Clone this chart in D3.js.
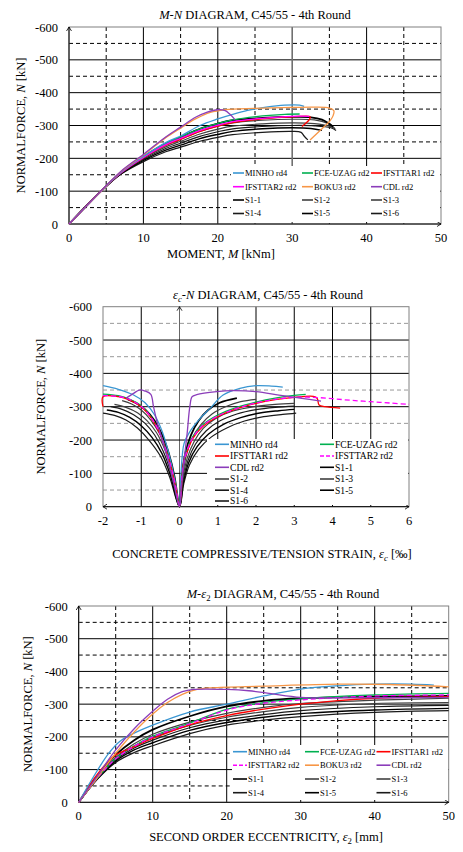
<!DOCTYPE html>
<html>
<head>
<meta charset="utf-8">
<title>M-N diagrams C45/55</title>
<script src="https://d3js.org/d3.v7.min.js"></script>
<style>
  body { margin: 0; background: #fff; }
  svg text { font-family: "Liberation Serif", "Times New Roman", serif; fill: #000; }
</style>
</head>
<body>
<svg id="chart" width="463" height="852"></svg>
<script>
// ---- data ----
var nTicks = [0, -100, -200, -300, -400, -500, -600];
var nMajor = [-100, -200, -300, -400, -500];
var nMinor = [-50, -150, -250, -350, -450, -550];

var mTicks = [0, 10, 20, 30, 40, 50];
var mMajor = [10, 20, 30, 40];
var mMinor = [5, 15, 25, 35, 45];

var strainTicks = [-2, -1, 0, 1, 2, 3, 4, 5, 6];
var strainMajor = [-1, 1, 2, 3, 4, 5];

var legendAll = ["MINHO rd4", "FCE-UZAG rd2", "IFSTTAR1 rd2", "IFSTTAR2 rd2", "BOKU3 rd2", "CDL rd2",
                 "S1-1", "S1-2", "S1-3", "S1-4", "S1-5", "S1-6"];
var legendStrain = ["MINHO rd4", "FCE-UZAG rd2", "IFSTTAR1 rd2", "IFSTTAR2 rd2", "CDL rd2",
                    "S1-1", "S1-2", "S1-3", "S1-4", "S1-5", "S1-6"];

// M-N diagram: [M kNm, N kN]
var mnCurves = {
  "S1-6": [[0,0],[4.3,-100],[7,-152],[10,-190],[13,-220],[15,-234],[17.6,-252],[20,-264],[22,-272],[26,-279],[30,-282],[31.2,-279],[31.6,-268],[32.1,-256]],
  "S1-5": [[0,0],[4.3,-100],[7,-153],[10,-194],[13,-225],[15,-240],[17.6,-260],[20,-273],[22,-282],[26,-290],[30,-293],[32.5,-291],[34,-285]],
  "S1-4": [[0,0],[4.3,-100],[7,-154],[10,-197],[13,-230],[15,-246],[17.6,-267],[20,-281],[22,-290],[26,-297],[30,-300],[33,-299],[35.2,-293],[35.9,-285]],
  "S1-3": [[0,0],[4.3,-100],[7,-155],[10,-200],[13,-235],[15,-252],[17.6,-274],[20,-289],[22,-298],[26,-305],[30,-308],[33,-306],[35,-298],[35.8,-289]],
  "S1-2": [[0,0],[4.3,-100],[7,-156],[10,-203],[13,-240],[15,-258],[17.6,-282],[20,-298],[22,-308],[26,-316],[30,-319],[33,-317],[34.8,-306],[35.7,-292]],
  "S1-1": [[0,0],[4.3,-100],[7,-157],[10,-205],[13,-245],[15,-264],[17.6,-290],[20,-306],[22,-316],[26,-323],[30,-326],[32.5,-325],[34,-318],[34.8,-308],[35.5,-296]],
  "FCE-UZAG rd2": [[0,0],[4.3,-100],[7,-157],[10,-204],[13,-245],[15,-265],[17.6,-290],[20,-306],[22,-317],[26,-329],[29,-334],[31,-335]],
  "IFSTTAR1 rd2": [[0,0],[4.3,-100],[7,-156],[10,-202],[13,-240],[15,-258],[17.6,-282],[20,-298],[22,-309],[26,-320],[30,-326],[32.4,-327],[32.3,-318],[31.3,-297]],
  "IFSTTAR2 rd2": [[0,0],[4.3,-100],[7,-156],[10,-203],[13,-242],[15,-261],[17.6,-285],[20,-301],[22,-312],[26,-322],[30,-328],[32.3,-328]],
  "MINHO rd4": [[0,0],[4.3,-100],[7,-158],[10,-206],[13,-248],[15,-268],[17.6,-300],[20,-320],[22,-334],[24,-346],[26.5,-356],[29,-362],[31,-362],[31.6,-358]],
  "BOKU3 rd2": [[0,0],[4.3,-100],[7,-160],[10,-210],[13,-263],[15,-292],[17,-320],[19,-340],[21,-348],[25,-352],[30,-355],[33,-356],[35,-353],[35.6,-345],[35.5,-330],[35.1,-315],[34,-290],[32.4,-256]],
  "CDL rd2": [[0,0],[4.3,-100],[7,-161],[10,-212],[13,-265],[15,-295],[17,-325],[18.5,-340],[20,-348],[21,-345],[21.6,-335],[22.3,-318]]
};

// eps_c-N diagram: [strain permille, N kN]
var strainCurves = {
  "S1-6": [[-2.0,-281],[-1.7,-274],[-1.4,-260],[-1.1,-236],[-0.8,-200],[-0.5,-152],[-0.26,-90],[0,0],[0.11,-68],[0.26,-125],[0.5,-172],[0.82,-208],[1.25,-237],[1.7,-257],[2.2,-270],[2.7,-277],[3.05,-281]],
  "S1-5": [[-1.9,-290],[-1.6,-283],[-1.3,-268],[-1.0,-243],[-0.72,-208],[-0.46,-160],[-0.24,-95],[0,0],[0.1,-72],[0.24,-132],[0.46,-180],[0.76,-218],[1.15,-247],[1.6,-267],[2.1,-281],[2.6,-288],[3.0,-292]],
  "S1-4": [[-1.8,-300],[-1.5,-292],[-1.2,-276],[-0.9,-250],[-0.65,-215],[-0.42,-165],[-0.22,-100],[0,0],[0.09,-75],[0.22,-138],[0.42,-188],[0.7,-228],[1.05,-257],[1.5,-278],[2.0,-291],[2.5,-298],[3.0,-302]],
  "S1-3": [[-1.7,-307],[-1.4,-298],[-1.1,-282],[-0.85,-258],[-0.6,-222],[-0.38,-170],[-0.2,-105],[0,0],[0.08,-80],[0.2,-145],[0.38,-195],[0.62,-235],[0.95,-265],[1.4,-287],[2.0,-301],[2.5,-307],[3.0,-310]],
  "S1-2": [[-1.5,-318],[-1.25,-308],[-1.0,-290],[-0.75,-260],[-0.5,-215],[-0.3,-160],[-0.14,-90],[0,0],[0.07,-85],[0.17,-150],[0.33,-205],[0.55,-245],[0.85,-278],[1.25,-302],[1.6,-315],[2.0,-322]],
  "S1-1": [[-1.35,-322],[-1.15,-312],[-0.9,-292],[-0.65,-258],[-0.45,-215],[-0.28,-160],[-0.13,-90],[0,0],[0.06,-90],[0.15,-160],[0.3,-215],[0.5,-258],[0.75,-290],[1.05,-312],[1.5,-326]],
  "MINHO rd4": [[-2,-363],[-1.6,-352],[-1.2,-335],[-0.9,-312],[-0.65,-275],[-0.45,-225],[-0.28,-160],[-0.12,-80],[0,0],[0.03,-80],[0.07,-150],[0.12,-190],[0.27,-225],[0.54,-265],[0.8,-295],[1.14,-335],[1.58,-355],[2.0,-363],[2.4,-362],[2.7,-359]],
  "FCE-UZAG rd2": [[-2,-338],[-1.6,-333],[-1.3,-322],[-1.0,-303],[-0.75,-270],[-0.55,-230],[-0.38,-180],[-0.22,-120],[-0.1,-60],[0,0],[0.08,-110],[0.18,-165],[0.35,-210],[0.6,-245],[1.0,-275],[1.5,-298],[2.0,-314],[2.5,-326],[3.0,-334],[3.3,-337]],
  "IFSTTAR1 rd2": [[-2,-300],[-2,-330],[-1.6,-330],[-1.3,-320],[-1.0,-300],[-0.75,-268],[-0.55,-228],[-0.38,-178],[-0.22,-118],[-0.1,-58],[0,0],[0.08,-105],[0.12,-140],[0.2,-165],[0.35,-205],[0.6,-240],[1.0,-270],[1.5,-294],[2.0,-310],[2.5,-321],[3.0,-328],[3.5,-331],[3.6,-325],[3.65,-305],[3.8,-300],[4.2,-296]],
  "IFSTTAR2 rd2": [[-2,-333],[-1.6,-331],[-1.3,-321],[-1.0,-301],[-0.75,-269],[-0.55,-229],[-0.38,-179],[-0.22,-119],[-0.1,-59],[0,0],[0.08,-108],[0.18,-162],[0.35,-207],[0.6,-243],[1.0,-272],[1.5,-295],[2.0,-311],[2.5,-322],[3.0,-328],[3.5,-328],[4.0,-324],[4.5,-319],[5.0,-315],[5.5,-311],[6.0,-307]],
  "CDL rd2": [[-1.4,-325],[-1.2,-340],[-1.05,-350],[-0.9,-347],[-0.75,-337],[-0.68,-300],[-0.6,-260],[-0.45,-200],[-0.3,-140],[-0.15,-70],[0,0],[0.05,-60],[0.12,-140],[0.2,-220],[0.27,-300],[0.33,-330],[0.45,-336],[0.97,-345],[1.4,-348],[2.0,-345],[2.6,-335],[3.2,-325],[3.7,-317]]
};

// M-eps2 diagram: [e2 mm, N kN]
var eccCurves = {
  "S1-6": [[0,0],[2.5,-70],[5,-122],[7.5,-152],[10,-173],[15,-210],[20,-236],[25,-251],[30,-262],[40,-275],[50,-280]],
  "S1-5": [[0,0],[2.5,-71],[5,-126],[7.5,-160],[10,-182],[15,-220],[20,-244],[25,-260],[30,-271],[40,-282],[50,-287]],
  "S1-4": [[0,0],[2.5,-72],[5,-130],[7.5,-166],[10,-190],[15,-228],[20,-252],[25,-268],[30,-280],[40,-292],[50,-296]],
  "S1-3": [[0,0],[2.5,-73],[5,-133],[7.5,-172],[10,-198],[15,-235],[20,-260],[25,-277],[30,-290],[40,-302],[50,-305]],
  "S1-2": [[0,0],[2.5,-75],[5,-137],[7.5,-179],[10,-208],[15,-245],[20,-272],[25,-290],[30,-302],[40,-312],[50,-318]],
  "S1-1": [[0,0],[2.5,-80],[5,-145],[7.5,-190],[10,-222],[15,-263],[20,-293],[25,-310],[30,-318],[40,-323],[50,-325]],
  "FCE-UZAG rd2": [[0,0],[2.5,-74],[5,-134],[7.5,-172],[10,-202],[15,-242],[20,-284],[25,-305],[30,-316],[40,-328],[50,-333]],
  "IFSTTAR1 rd2": [[0,0],[2,-70],[4,-125],[5,-145],[7,-165],[10,-195],[15,-237],[20,-265],[25,-285],[30,-300],[35,-311],[40,-318],[50,-323]],
  "IFSTTAR2 rd2": [[0,0],[2.5,-74],[5,-133],[7.5,-171],[10,-200],[15,-240],[20,-282],[25,-303],[30,-313],[35,-320],[40,-325],[45,-327],[50,-328]],
  "MINHO rd4": [[0,0],[2,-78],[4,-148],[5.5,-185],[7,-206],[10,-236],[15,-276],[20,-300],[25,-325],[30,-346],[35,-356],[40,-361],[45,-361],[48,-358]],
  "BOKU3 rd2": [[0,0],[2.5,-75],[5,-150],[7.5,-215],[10,-270],[12,-305],[14,-330],[16,-345],[18,-350],[25,-355],[35,-361],[42,-360],[50,-353]],
  "CDL rd2": [[0,0],[2.5,-80],[5,-160],[7.5,-225],[10,-278],[12,-315],[14,-338],[15.5,-345],[20,-345],[23,-341],[26,-332],[30,-321],[35,-319],[50,-321]]
};

// ---- styles ----
var seriesStyle = {
  "MINHO rd4":    { color: "#3a96d2", width: 1.3 },
  "FCE-UZAG rd2": { color: "#00b050", width: 1.3 },
  "IFSTTAR1 rd2": { color: "#ff0000", width: 1.3 },
  "IFSTTAR2 rd2": { color: "#ff00ff", width: 1.3 },
  "BOKU3 rd2":    { color: "#f79646", width: 1.3 },
  "CDL rd2":      { color: "#8b3dba", width: 1.3 },
  "S1-1": { color: "#000000", width: 1.8 },
  "S1-2": { color: "#404040", width: 1.2 },
  "S1-3": { color: "#404040", width: 1.2 },
  "S1-4": { color: "#1a1a1a", width: 1.2 },
  "S1-5": { color: "#000000", width: 1.4 },
  "S1-6": { color: "#1a1a1a", width: 1.2 }
};

var svg = d3.select("#chart");

function richText(sel, parts, size) {
  parts.forEach(function(p) {
    var t = sel.append("tspan").text(p.t);
    if (p.i) t.attr("font-style", "italic");
    if (p.sub) t.attr("font-size", size * 0.7).attr("dy", size * 0.25);
    if (p.back) t.attr("dy", -size * 0.25);
  });
}

function drawPanel(cfg) {
  var x = d3.scaleLinear().domain(cfg.xDomain).range([cfg.left, cfg.right]);
  var y = d3.scaleLinear().domain([0, -600]).range([cfg.bottom, cfg.top]);
  var g = svg.append("g");

  // grid
  g.selectAll(".ymin").data(nMinor).enter().append("line")
    .attr("x1", cfg.left).attr("x2", cfg.right)
    .attr("y1", function(d) { return y(d); }).attr("y2", function(d) { return y(d); })
    .attr("stroke", cfg.minorColor).attr("stroke-width", 1).attr("stroke-dasharray", "4,3");
  g.selectAll(".ymaj").data(nMajor).enter().append("line")
    .attr("x1", cfg.left).attr("x2", cfg.right)
    .attr("y1", function(d) { return y(d); }).attr("y2", function(d) { return y(d); })
    .attr("stroke", "#000").attr("stroke-width", 1);
  g.selectAll(".xmin").data(cfg.xMinor).enter().append("line")
    .attr("y1", cfg.top).attr("y2", cfg.bottom)
    .attr("x1", function(d) { return x(d); }).attr("x2", function(d) { return x(d); })
    .attr("stroke", "#000").attr("stroke-width", 1).attr("stroke-dasharray", "4,3");
  g.selectAll(".xmaj").data(cfg.xMajor).enter().append("line")
    .attr("y1", cfg.top).attr("y2", cfg.bottom)
    .attr("x1", function(d) { return x(d); }).attr("x2", function(d) { return x(d); })
    .attr("stroke", function(d) { return d === cfg.grayMajor ? "#707070" : "#000"; })
    .attr("stroke-width", function(d) { return d === cfg.grayMajor ? 1.6 : 1; });
  g.append("rect")
    .attr("x", cfg.left).attr("y", cfg.top)
    .attr("width", cfg.right - cfg.left).attr("height", cfg.bottom - cfg.top)
    .attr("fill", "none").attr("stroke", "#808080").attr("stroke-width", 1);

  // axis lines through zero
  g.append("line").attr("x1", x(0)).attr("x2", x(0)).attr("y1", cfg.top).attr("y2", cfg.bottom)
    .attr("stroke", "#000").attr("stroke-width", cfg.zeroWidth);
  g.append("line").attr("x1", cfg.left).attr("x2", cfg.right).attr("y1", y(0)).attr("y2", y(0))
    .attr("stroke", "#000").attr("stroke-width", 1);
  // small arrow heads
  g.append("path")
    .attr("d", "M" + (x(0) - 2.5) + "," + (cfg.top + 4) + "L" + x(0) + "," + cfg.top + "L" + (x(0) + 2.5) + "," + (cfg.top + 4))
    .attr("fill", "none").attr("stroke", "#000").attr("stroke-width", 0.8);
  g.append("path")
    .attr("d", "M" + (cfg.right - 4) + "," + (y(0) - 2.5) + "L" + cfg.right + "," + y(0) + "L" + (cfg.right - 4) + "," + (y(0) + 2.5))
    .attr("fill", "none").attr("stroke", "#000").attr("stroke-width", 0.8);
  if (cfg.leftArrow) {
    g.append("path")
      .attr("d", "M" + (cfg.left + 4) + "," + (y(0) - 2.5) + "L" + cfg.left + "," + y(0) + "L" + (cfg.left + 4) + "," + (y(0) + 2.5))
      .attr("fill", "none").attr("stroke", "#000").attr("stroke-width", 0.8);
  }

  // tick labels
  g.selectAll(".yt").data(nTicks).enter().append("text")
    .attr("x", cfg.left - 11).attr("y", function(d) { return y(d) + 4.5; })
    .attr("text-anchor", "end").attr("font-size", 12.5)
    .text(function(d) { return d; });
  g.selectAll(".xt").data(cfg.xTicks).enter().append("text")
    .attr("x", function(d) { return x(d); }).attr("y", cfg.bottom + 18)
    .attr("text-anchor", "middle").attr("font-size", 12.5)
    .text(function(d) { return d; });

  // curves
  var line = d3.line()
    .x(function(d) { return x(d[0]); })
    .y(function(d) { return y(d[1]); })
    .curve(d3.curveCatmullRom.alpha(0.5));
  Object.keys(cfg.curves).forEach(function(name) {
    var st = seriesStyle[name];
    g.append("path")
      .datum(cfg.curves[name])
      .attr("d", line)
      .attr("fill", "none")
      .attr("stroke", st.color)
      .attr("stroke-width", st.width)
      .attr("stroke-dasharray", cfg.dashed.indexOf(name) >= 0 ? "5,3" : null);
  });

  // legend
  var L = cfg.legend;
  g.append("rect").attr("x", L.x).attr("y", L.y).attr("width", L.w).attr("height", L.h).attr("fill", "#fff");
  var item = g.selectAll(".leg").data(cfg.legendItems).enter().append("g")
    .attr("transform", function(d, i) {
      return "translate(" + L.cols[i % L.cols.length] + "," + L.rows[Math.floor(i / L.cols.length)] + ")";
    });
  item.append("line").attr("x1", 0).attr("x2", L.lineLen).attr("y1", 0).attr("y2", 0)
    .attr("stroke", function(d) { return seriesStyle[d].color; })
    .attr("stroke-width", 1.6)
    .attr("stroke-dasharray", function(d) { return cfg.dashed.indexOf(d) >= 0 ? "4,2" : null; });
  item.append("text").attr("x", L.lineLen + 1).attr("y", L.fontSize * 0.35)
    .attr("font-size", L.fontSize)
    .text(function(d) { return d; });

  // titles
  var t = g.append("text").attr("x", cfg.titleX).attr("y", cfg.top - 8)
    .attr("text-anchor", "middle").attr("font-size", 12.5);
  richText(t, cfg.title, 12.5);
  var xt = g.append("text").attr("x", cfg.xTitleX).attr("y", cfg.xTitleY)
    .attr("text-anchor", "middle").attr("font-size", 12.5);
  richText(xt, cfg.xTitle, 12.5);
  var yt = g.append("text")
    .attr("transform", "translate(" + cfg.yTitleX + "," + ((cfg.top + cfg.bottom) / 2) + ") rotate(-90)")
    .attr("text-anchor", "middle").attr("font-size", 12.5);
  richText(yt, [{ t: "NORMALFORCE, " }, { t: "N", i: true }, { t: " [kN]" }], 12.5);
}

var tail = { t: " DIAGRAM, C45/55 - 4th Round" };

drawPanel({
  xDomain: [0, 50], left: 69, right: 441, top: 27, bottom: 224,
  xTicks: mTicks, xMajor: mMajor, xMinor: mMinor, minorColor: "#000", zeroWidth: 1, grayMajor: 30,
  curves: mnCurves, dashed: [],
  legendItems: legendAll,
  legend: { x: 231, y: 166, w: 209, h: 56, cols: [233, 302, 371], rows: [173, 186.7, 200, 213.5], lineLen: 11, fontSize: 8.5 },
  title: [{ t: "M", i: true }, { t: "-" }, { t: "N", i: true }, tail], titleX: 255,
  xTitle: [{ t: "MOMENT, " }, { t: "M", i: true }, { t: " [kNm]" }], xTitleX: 221, xTitleY: 258,
  yTitleX: 25
});

drawPanel({
  xDomain: [-2, 6], left: 103, right: 409, top: 306.7, bottom: 506.7,
  xTicks: strainTicks, xMajor: strainMajor, xMinor: [], minorColor: "#999", zeroWidth: 0.6, leftArrow: true,
  curves: strainCurves, dashed: ["IFSTTAR2 rd2"],
  legendItems: legendStrain,
  legend: { x: 207, y: 439, w: 201, h: 66, cols: [215, 320], rows: [444.3, 456, 467.3, 479, 490.2, 501], lineLen: 14, fontSize: 9.6 },
  title: [{ t: "ε", i: true }, { t: "c", i: true, sub: true }, { t: "-", back: true }, { t: "N", i: true }, tail], titleX: 268,
  xTitle: [{ t: "CONCRETE COMPRESSIVE/TENSION STRAIN, " }, { t: "ε", i: true }, { t: "c", i: true, sub: true }, { t: " [‰]", back: true }],
  xTitleX: 262, xTitleY: 558,
  yTitleX: 45
});

drawPanel({
  xDomain: [0, 50], left: 78.7, right: 448.7, top: 606, bottom: 802.3,
  xTicks: mTicks, xMajor: mMajor, xMinor: mMinor, minorColor: "#000", zeroWidth: 1,
  curves: eccCurves, dashed: ["IFSTTAR2 rd2"],
  legendItems: legendAll,
  legend: { x: 232, y: 745, w: 216, h: 55, cols: [233, 305, 376.5], rows: [751.7, 765.2, 779, 792.7], lineLen: 14, fontSize: 8.5 },
  title: [{ t: "M", i: true }, { t: "-" }, { t: "ε", i: true }, { t: "2", sub: true }, { t: " DIAGRAM, C45/55 - 4th Round", back: true }], titleX: 283,
  xTitle: [{ t: "SECOND ORDER ECCENTRICITY, " }, { t: "ε", i: true }, { t: "2", sub: true }, { t: " [mm]", back: true }],
  xTitleX: 266, xTitleY: 841,
  yTitleX: 32
});
</script>
</body>
</html>
